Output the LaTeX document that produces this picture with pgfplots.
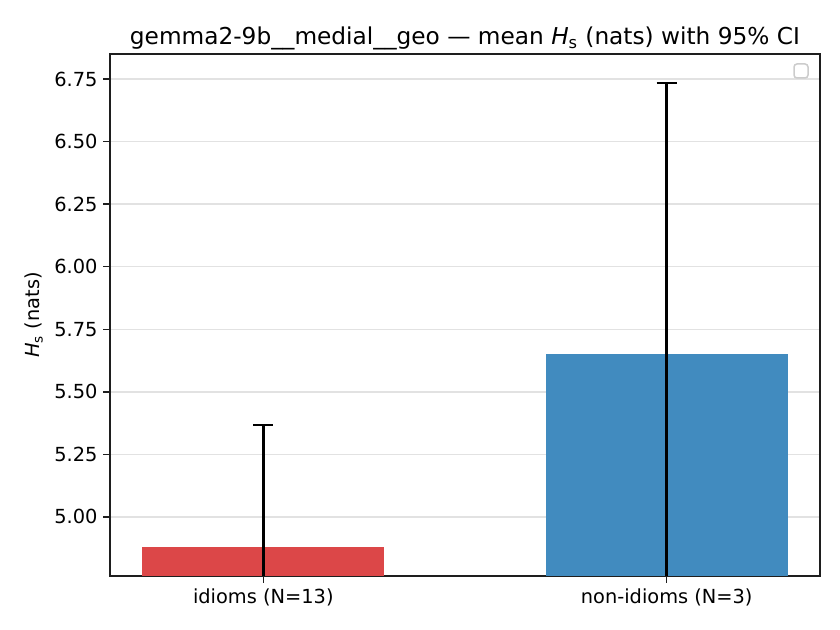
\documentclass[border=0pt]{standalone}
\usepackage{pgfplots}
\pgfplotsset{compat=1.18}
\usepackage{fontspec}
\setmainfont{DejaVu Sans}
\definecolor{barred}{RGB}{220,71,72}
\definecolor{barblue}{RGB}{65,139,191}
\definecolor{gridgray}{RGB}{226,226,226}
\definecolor{axgray}{RGB}{30,30,30}
\begin{document}
\begin{tikzpicture}
\begin{axis}[
  name=ax,
  scale only axis,
  width=426bp, height=313.2bp,
  xmin=-0.38, xmax=1.38,
  ymin=4.764, ymax=6.85,
  xtick={0,1},
  xticklabels={idioms (N=13), non-idioms (N=3)},
  ytick={5.00,5.25,5.50,5.75,6.00,6.25,6.50,6.75},
  yticklabel style={/pgf/number format/.cd, fixed, fixed zerofill, precision=2},
  /pgf/number format/assume math mode=true,
  tick label style={font=\fontsize{11.67}{14}\selectfont, text=black},
  tick align=outside,
  major tick length=4bp,
  xtick pos=bottom, ytick pos=left,
  ymajorgrids,
  grid style={gridgray, line width=0.9bp},
  axis line style={axgray, line width=0.9bp},
  every tick/.style={axgray, line width=0.9bp},
  title={gemma2-9b\_\_medial\_\_geo — mean \textit{H}\textsubscript{s} (nats) with 95\% CI},
  title style={font=\fontsize{14}{16}\selectfont, at={(0.5,1)}, anchor=south, inner sep=0pt, yshift=-4bp},
  ylabel={\textit{H}\textsubscript{s} (nats)},
  ylabel style={font=\fontsize{11.67}{14}\selectfont},
  clip=true,
]
\addplot[ybar, bar width=0.6, fill=barred, draw=none,
  error bars/.cd, y dir=both, y explicit,
  error bar style={black, line width=1.8bp},
  error mark options={black, line width=1.4bp, mark size=6bp, rotate=90}]
  coordinates {(0,4.880) +- (0,0.488)};
\addplot[ybar, bar width=0.6, fill=barblue, draw=none,
  error bars/.cd, y dir=both, y explicit,
  error bar style={black, line width=1.8bp},
  error mark options={black, line width=1.4bp, mark size=6bp, rotate=90}]
  coordinates {(1,5.651) +- (0,1.083)};
\draw[gray!40, line width=0.9bp, rounded corners=1.8bp, fill=white]
  ([xshift=-15.6bp,yshift=-6bp]rel axis cs:1,1) rectangle ([xshift=-7.2bp,yshift=-14.4bp]rel axis cs:1,1);
\end{axis}
\pgfresetboundingbox
\path ([xshift=-66bp,yshift=-32.4bp]ax.south west) rectangle ([xshift=12bp,yshift=32.4bp]ax.north east);
\end{tikzpicture}
\end{document}
